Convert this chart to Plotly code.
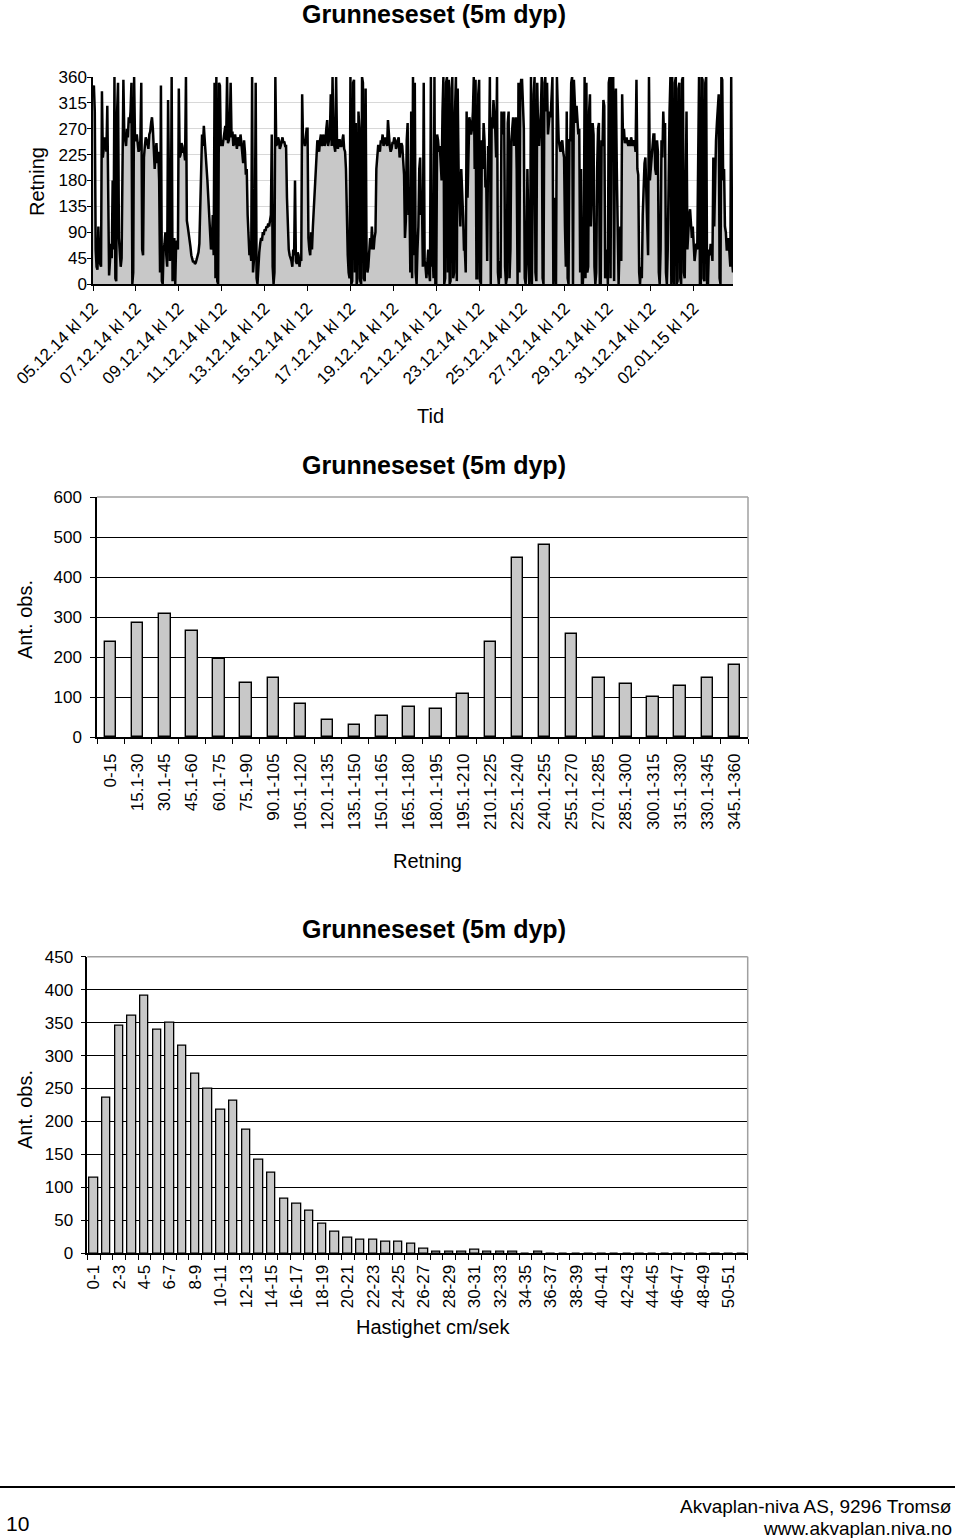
import plotly.graph_objects as go
import pandas as pd

W, H = 960, 1538

# ---------------- data ----------------
start_time = "2014-12-05 12:00"
step = "1h"
# direction (degrees) at ~1 hour steps, one row per day
retning_day = [
    [340, 345, 300, 60, 30, 25, 100, 40, 35, 30, 335, 220, 235, 255, 248, 230, 310, 200, 15, 40, 70, 45, 180, 60],
    [360, 10, 5, 300, 350, 80, 60, 30, 45, 200, 355, 260, 250, 240, 270, 255, 290, 280, 300, 350, 0, 20, 360, 250],
    [250, 260, 245, 230, 235, 250, 350, 60, 50, 220, 240, 255, 250, 240, 235, 260, 265, 280, 290, 270, 240, 200, 230, 245],
    [210, 230, 180, 20, 345, 5, 0, 60, 70, 90, 50, 30, 320, 100, 40, 60, 360, 5, 60, 80, 0, 70, 75, 60],
    [340, 220, 225, 245, 240, 230, 230, 215, 360, 110, 100, 90, 80, 65, 50, 45, 38, 40, 35, 37, 42, 48, 55, 70],
    [120, 200, 260, 240, 275, 250, 230, 200, 180, 150, 110, 90, 60, 70, 120, 50, 350, 10, 360, 5, 0, 350, 345, 240],
    [250, 240, 255, 265, 275, 250, 360, 245, 250, 270, 350, 255, 265, 240, 245, 260, 250, 235, 255, 250, 240, 260, 245, 230],
    [210, 250, 230, 190, 200, 120, 90, 50, 60, 40, 360, 20, 40, 60, 350, 10, 0, 40, 55, 70, 80, 75, 90, 85],
    [95, 92, 100, 98, 105, 100, 110, 120, 260, 30, 0, 20, 360, 240, 245, 255, 250, 235, 240, 250, 255, 245, 248, 240],
    [240, 150, 100, 60, 50, 45, 40, 30, 60, 50, 180, 40, 35, 55, 50, 30, 45, 40, 330, 245, 250, 240, 255, 270],
    [270, 80, 60, 50, 90, 60, 100, 130, 160, 200, 235, 250, 245, 230, 250, 260, 240, 250, 260, 240, 245, 270, 285, 240],
    [250, 260, 330, 240, 360, 250, 240, 230, 360, 245, 235, 250, 250, 240, 240, 255, 260, 235, 230, 200, 90, 50, 20, 10],
    [360, 0, 5, 350, 355, 20, 280, 0, 10, 300, 270, 5, 0, 360, 350, 10, 5, 340, 60, 20, 30, 50, 80, 60],
    [100, 70, 60, 80, 90, 200, 225, 240, 240, 230, 250, 245, 260, 240, 245, 255, 250, 240, 285, 250, 240, 230, 235, 245],
    [245, 255, 250, 235, 240, 250, 255, 220, 230, 245, 240, 200, 190, 80, 110, 250, 280, 120, 150, 20, 300, 10, 360, 50],
    [350, 20, 0, 60, 100, 200, 220, 120, 150, 30, 350, 40, 30, 10, 40, 60, 20, 5, 360, 30, 50, 10, 360, 0],
    [0, 260, 250, 230, 240, 200, 180, 300, 360, 0, 10, 350, 360, 20, 355, 0, 5, 340, 360, 10, 20, 300, 360, 5],
    [340, 200, 150, 100, 200, 170, 120, 60, 60, 20, 300, 150, 250, 290, 280, 260, 270, 300, 360, 200, 355, 10, 10, 330],
    [355, 5, 0, 250, 200, 280, 250, 170, 170, 40, 240, 210, 360, 0, 290, 270, 320, 300, 270, 220, 360, 20, 0, 40],
    [10, 300, 280, 260, 300, 30, 0, 10, 280, 300, 10, 60, 250, 280, 290, 240, 270, 290, 200, 0, 350, 20, 340, 355],
    [355, 300, 270, 10, 0, 40, 200, 100, 0, 30, 360, 0, 250, 330, 360, 20, 5, 350, 260, 240, 270, 300, 360, 10],
    [0, 350, 360, 300, 350, 260, 280, 300, 290, 350, 360, 0, 150, 40, 0, 360, 300, 250, 240, 230, 245, 250, 230, 220],
    [100, 30, 300, 10, 0, 250, 250, 350, 360, 0, 355, 300, 280, 310, 290, 260, 270, 20, 200, 0, 0, 40, 360, 10],
    [350, 20, 30, 300, 330, 100, 150, 280, 260, 30, 0, 20, 200, 270, 280, 0, 0, 250, 240, 320, 310, 10, 20, 60],
    [0, 350, 360, 10, 355, 360, 360, 5, 300, 340, 200, 30, 0, 60, 100, 40, 330, 250, 270, 245, 250, 255, 245, 240],
    [250, 240, 255, 245, 240, 250, 245, 230, 355, 200, 190, 20, 0, 30, 10, 120, 180, 210, 220, 150, 100, 50, 360, 180],
    [200, 230, 240, 260, 260, 200, 190, 250, 230, 20, 0, 60, 250, 220, 300, 250, 280, 20, 0, 60, 250, 300, 360, 0],
    [360, 20, 0, 350, 360, 0, 5, 340, 350, 10, 0, 355, 360, 20, 10, 250, 300, 60, 100, 120, 130, 90, 80, 100],
    [60, 40, 55, 70, 60, 200, 360, 0, 0, 360, 355, 10, 5, 350, 360, 0, 0, 60, 50, 70, 60, 40, 220, 100],
    [200, 250, 280, 300, 330, 10, 0, 360, 355, 180, 200, 100, 90, 60, 60, 80, 40, 30, 360, 40, 20],
]

tid_tickvals = ["2014-12-05 12:00", "2014-12-07 12:00", "2014-12-09 12:00",
                "2014-12-11 12:00", "2014-12-13 12:00", "2014-12-15 12:00",
                "2014-12-17 12:00", "2014-12-19 12:00", "2014-12-21 12:00",
                "2014-12-23 12:00", "2014-12-25 12:00", "2014-12-27 12:00",
                "2014-12-29 12:00", "2014-12-31 12:00", "2015-01-02 12:00"]
tid_ticktext = ["05.12.14 kl 12", "07.12.14 kl 12", "09.12.14 kl 12",
                "11.12.14 kl 12", "13.12.14 kl 12", "15.12.14 kl 12",
                "17.12.14 kl 12", "19.12.14 kl 12", "21.12.14 kl 12",
                "23.12.14 kl 12", "25.12.14 kl 12", "27.12.14 kl 12",
                "29.12.14 kl 12", "31.12.14 kl 12", "02.01.15 kl 12"]
retning_yticks = [0, 45, 90, 135, 180, 225, 270, 315, 360]

retning_bins = ["0-15", "15.1-30", "30.1-45", "45.1-60", "60.1-75", "75.1-90",
                "90.1-105", "105.1-120", "120.1-135", "135.1-150", "150.1-165",
                "165.1-180", "180.1-195", "195.1-210", "210.1-225", "225.1-240",
                "240.1-255", "255.1-270", "270.1-285", "285.1-300", "300.1-315",
                "315.1-330", "330.1-345", "345.1-360"]
retning_counts = [238, 284, 307, 265, 196, 136, 148, 82, 42, 31, 52, 74,
                  71, 108, 238, 448, 479, 258, 148, 132, 100, 128, 148, 179]
retning_counts_ticks = [0, 100, 200, 300, 400, 500, 600]

hast_bins = ["0-1", "1-2", "2-3", "3-4", "4-5", "5-6", "6-7", "7-8", "8-9",
             "9-10", "10-11", "11-12", "12-13", "13-14", "14-15", "15-16",
             "16-17", "17-18", "18-19", "19-20", "20-21", "21-22", "22-23",
             "23-24", "24-25", "25-26", "26-27", "27-28", "28-29", "29-30",
             "30-31", "31-32", "32-33", "33-34", "34-35", "35-36", "36-37",
             "37-38", "38-39", "39-40", "40-41", "41-42", "42-43", "43-44",
             "44-45", "45-46", "46-47", "47-48", "48-49", "49-50", "50-51",
             "51-52"]
hast_counts = [114, 236, 346, 360, 391, 339, 350, 315, 272, 250, 218, 232,
               187, 142, 123, 83, 76, 64, 45, 33, 24, 21, 21, 17, 17, 14, 7,
               2, 2, 2, 5, 2, 2, 2, 0, 2, 0, 0, 0, 0, 0, 0, 0, 0, 0, 0, 0,
               0, 0, 0, 0, 0]
hast_counts_ticks = [0, 50, 100, 150, 200, 250, 300, 350, 400, 450]

title_text = "<b>Grunneseset (5m dyp)</b>"

# ---------------- helpers ----------------
def px(x):
    return x / W

def py(y):
    return 1 - y / H

FONT = "Liberation Sans, Arial, sans-serif"
BAR_FILL = "#c8c8c8"

retning_series = [v for day in retning_day for v in day]
times = pd.date_range(start_time, periods=len(retning_series), freq=step)

fig = go.Figure()

fig.add_trace(go.Scatter(
    x=times, y=retning_series, mode="lines",
    line=dict(color="black", width=2.5),
    fill="tozeroy", fillcolor=BAR_FILL,
    xaxis="x", yaxis="y", showlegend=False, hoverinfo="skip"))

fig.add_trace(go.Bar(
    x=retning_bins, y=retning_counts, width=0.42,
    marker=dict(color=BAR_FILL, line=dict(color="black", width=1.4)),
    xaxis="x2", yaxis="y2", showlegend=False))

fig.add_trace(go.Bar(
    x=hast_bins, y=hast_counts, width=0.66,
    marker=dict(color=BAR_FILL, line=dict(color="black", width=1.3)),
    xaxis="x3", yaxis="y3", showlegend=False))

tickfont = dict(family=FONT, size=17, color="black")
common_axis = dict(showline=True, linecolor="black", linewidth=1.5,
                   ticks="outside", tickcolor="black", tickwidth=1,
                   tickfont=tickfont, zeroline=False, automargin=False)

fig.update_layout(
    width=W, height=H, autosize=False,
    margin=dict(l=0, r=0, t=0, b=0, pad=0, autoexpand=False),
    paper_bgcolor="white", plot_bgcolor="white",
    font=dict(family=FONT, color="black"),
    bargap=0, showlegend=False,
    xaxis=dict(domain=[px(93), px(733)], anchor="y", type="date",
               range=[times[0], times[-1]],
               tickmode="array", tickvals=tid_tickvals, ticktext=tid_ticktext,
               tickangle=-45, showgrid=False, ticklen=5, ticklabelstandoff=1,
               **common_axis),
    yaxis=dict(domain=[py(284), py(77)], anchor="x", range=[0, 360],
               tickmode="array", tickvals=retning_yticks,
               showgrid=True, gridcolor="#d8d8d8", gridwidth=1,
               ticklen=4, ticklabelstandoff=-3, **common_axis),
    xaxis2=dict(domain=[px(97), px(748)], anchor="y2", type="category",
                range=[-0.5, len(retning_bins) - 0.5],
                tickangle=-90, tickson="boundaries", showgrid=False,
                ticklen=5, ticklabelstandoff=8, **common_axis),
    yaxis2=dict(domain=[py(737), py(497)], anchor="x2", range=[0, 600],
                tickmode="array", tickvals=retning_counts_ticks,
                showgrid=True, gridcolor="black", gridwidth=1.3,
                ticklen=5, ticklabelstandoff=5, **common_axis),
    xaxis3=dict(domain=[px(87.3), px(747.7)], anchor="y3", type="category",
                range=[-0.5, len(hast_bins) - 0.5],
                tickmode="array", tickvals=hast_bins,
                ticktext=[b if i % 2 == 0 else "" for i, b in enumerate(hast_bins)],
                tickangle=-90, tickson="boundaries", showgrid=False,
                ticklen=5, ticklabelstandoff=3, **common_axis),
    yaxis3=dict(domain=[py(1253.3), py(956.7)], anchor="x3", range=[0, 450],
                tickmode="array", tickvals=hast_counts_ticks,
                showgrid=True, gridcolor="black", gridwidth=1.3,
                ticklen=5, ticklabelstandoff=4, **common_axis),
)

# gray plot-area borders (top and right) of the two bar charts
shapes = []
for xa, ya in (("x2", "y2"), ("x3", "y3")):
    shapes.append(dict(type="line", xref=f"{xa} domain", yref=f"{ya} domain",
                       x0=0, x1=1, y0=1, y1=1, layer="above",
                       line=dict(color="#a0a0a0", width=1.5)))
    shapes.append(dict(type="line", xref=f"{xa} domain", yref=f"{ya} domain",
                       x0=1, x1=1, y0=0, y1=1, layer="above",
                       line=dict(color="#a0a0a0", width=1.5)))
# footer rule
shapes.append(dict(type="line", xref="paper", yref="paper",
                   x0=0, x1=px(955), y0=py(1487), y1=py(1487),
                   line=dict(color="black", width=2)))
fig.update_layout(shapes=shapes)

def ann(text, x, y, size, angle=0, xanchor="center", yanchor="middle"):
    return dict(text=text, x=px(x), y=py(y), xref="paper", yref="paper",
                showarrow=False, textangle=angle, xanchor=xanchor,
                yanchor=yanchor, font=dict(family=FONT, size=size, color="black"))

annotations = [
    ann(title_text, 434, 14, 25),
    ann("Retning", 37, 182, 20, angle=-90),
    ann("Tid", 430, 416, 20),
    ann(title_text, 434, 465, 25),
    ann("Ant. obs.", 25, 620, 20, angle=-90),
    ann("Retning", 427, 861, 20),
    ann(title_text, 434, 929, 25),
    ann("Ant. obs.", 25, 1110, 20, angle=-90),
    ann("Hastighet cm/sek", 433, 1327, 20),
    ann("10", 4, 1523, 21, xanchor="left"),
    ann("Akvaplan-niva AS, 9296 Tromsø", 954, 1506, 19, xanchor="right"),
    ann("www.akvaplan.niva.no", 954, 1528, 19, xanchor="right"),
]
fig.update_layout(annotations=annotations)

fig.write_html("out.html")
